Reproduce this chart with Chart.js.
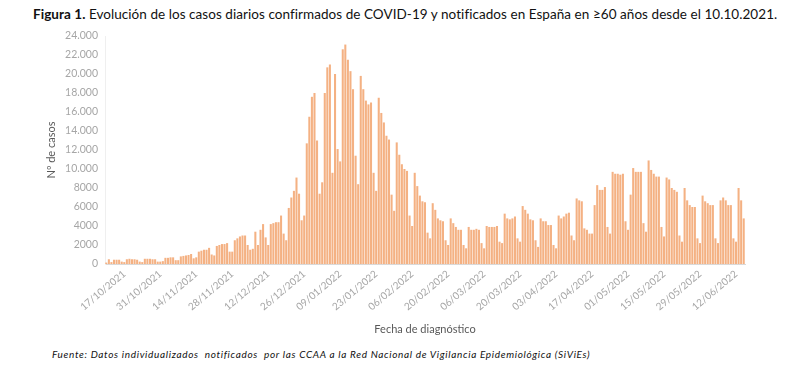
<!DOCTYPE html>
<html lang="es">
<head>
<meta charset="utf-8">
<script src="https://cdn.jsdelivr.net/npm/chart.js@4.4.1/dist/chart.umd.min.js"></script>
<style>
  html,body{margin:0;padding:0;background:#fff;}
  body{width:800px;height:378px;position:relative;overflow:hidden;font-family:Lato,'Liberation Sans',sans-serif;}
  #title{position:absolute;left:33px;top:6px;font-size:13.5px;color:#111;white-space:nowrap;}
  #title b{font-weight:700;}
  #wrap{position:absolute;left:0;top:22px;width:800px;height:322px;}
  #note{position:absolute;left:52px;top:348px;font-size:10px;font-style:italic;color:#111;white-space:nowrap;}
</style>
</head>
<body>
<div id="title"><b>Figura 1.</b> Evolución de los casos diarios confirmados de COVID-19 y notificados en España en ≥60 años desde el 10.10.2021.</div>
<div id="wrap"><canvas id="casos" width="800" height="322"></canvas></div>
<div id="note">Fuente: Datos individualizados&nbsp; notificados&nbsp; por las CCAA a la Red Nacional de Vigilancia Epidemiológica (SiViEs)</div>
<script>
/* ---- data (daily cases, >=60 years) ------------------------------------- */
// first day shown in each month: [year, month, day]
const monthStart = [[2021,10,10],[2021,11,1],[2021,12,1],[2022,1,1],[2022,2,1],[2022,3,1],[2022,4,1],[2022,5,1],[2022,6,1]];

const casesOct21 = [150,500,200,450,450,450,250, 200,500,550,500,500,450,250, 200,550,550,550,500,500,250, 250];
const casesNov21 = [300,650,650,700,700,400, 400,800,850,900,950,1050,600, 700,1300,1400,1500,1500,1700,1000,
                    900,1900,2000,2100,2100,2200,1300, 1300,2500,2700];
const casesDec21 = [2900,3000,3000,2000, 1500,1600,3400,2000,3600,4200,2800, 2000,4200,4300,4400,4400,5100,3200,
                    2500,5900,7000,7700,9100,7400,4600, 5100,12700,15500,17600,18000,13000];
const casesJan22 = [7400, 8600,18000,20700,21000,9600,20000,12100, 10800,22600,23100,21500,20300,18400,11400,
                    8400,19800,18400,17200,16800,17000,9600, 7700,17500,15900,14900,13500,13100,7300, 5600,12800];
const casesFeb22 = [11500,10500,10000,9800,5100, 4000,9600,8200,7200,6600,6500,3300, 2700,6400,5700,4800,4600,4500,2500,
                    2000,4800,4300,3900,3600,3600,2000, 1650,3900];
const casesMar22 = [3600,3600,3700,3600,2200, 1650,4000,3900,3900,3900,4000,2350, 2200,5300,4800,4700,4800,5000,2700,
                    2350,6100,5700,5300,4700,4600,2500, 1800,4800,4500,4500,4100];
const casesApr22 = [4100,2000, 1650,5100,4800,5000,5300,5400,3000, 2500,6900,6700,6600,3750,3600,3200,
                    3200,6200,8300,7800,7800,8100,3900, 3200,9700,9500,9500,9400,9500,4500];
const casesMay22 = [3600,7300,10100,9700,9700,9700,4300, 3400,10900,9900,9500,9200,9200,3900, 2900,9100,8900,8000,7800,7600,3000,
                    2350,8000,6700,6200,6000,6000,2700, 2200,7200,6600];
const casesJun22 = [6400,6200,6200,2700, 2200,6700,7000,6700,6200,6200,2700, 2350,8000,6700,4800];

const xTickLabels = ['17/10/2021','31/10/2021','14/11/2021','28/11/2021','12/12/2021','26/12/2021','09/01/2022','23/01/2022',
                     '06/02/2022','20/02/2022','06/03/2022','20/03/2022','03/04/2022','17/04/2022','01/05/2022','15/05/2022',
                     '29/05/2022','12/06/2022'];
const yTickLabels = ['0','2000','4000','6000','8000','10.000','12.000','14.000','16.000','18.000','20.000','22.000','24.000'];

/* ---- build the day axis --------------------------------------------------- */
const byMonth = [casesOct21,casesNov21,casesDec21,casesJan22,casesFeb22,casesMar22,casesApr22,casesMay22,casesJun22];
const pad2 = (n) => String(n).padStart(2,'0');
const days = [], cases = [];
byMonth.forEach((arr, k) => {
  const [y, m, d0] = monthStart[k];
  arr.forEach((v, j) => { days.push(pad2(d0 + j) + '/' + pad2(m) + '/' + y); cases.push(v); });
});

/* ---- chart ------------------------------------------------------------------ */
Chart.defaults.font.family = 'Lato, "Liberation Sans", sans-serif';
Chart.defaults.color = '#a6a6a6';

const el = document.getElementById('casos');
new Chart(el, {
  type:'bar',
  data:{ labels:days, datasets:[{ data:cases, backgroundColor:'#F4B183', barPercentage:.8, categoryPercentage:1 }]},
  options:{ responsive:false, animation:false,
    layout:{ padding:{ left:45, right:55, top:14, bottom:6 } },
    plugins:{ legend:{display:false}, tooltip:{enabled:false} },
    scales:{
      x:{ grid:{display:false, drawTicks:false}, border:{color:'#d9d9d9'},
          ticks:{ autoSkip:false, minRotation:40, maxRotation:40, padding:4, color:'#a6a6a6', font:{size:10},
                  callback:(v,i) => xTickLabels.includes(days[i]) ? days[i] : null },
          title:{ display:true, text:'Fecha de diagnóstico', color:'#595959', font:{size:11}, padding:{top:4,bottom:2} },
          afterFit:(s) => { s.height = 74; } },
      y:{ min:0, max:24000, grid:{display:false, drawTicks:false}, border:{color:'#efefef'},
          ticks:{ stepSize:2000, padding:7, color:'#a6a6a6', font:{size:10.5}, callback:(v,i) => yTickLabels[i] },
          title:{ display:true, text:'Nº de casos', color:'#595959', font:{size:11}, padding:0 },
          afterFit:(s) => { s.width = 60; } } } }
});

/* stretch the two text lines to the widths they have in the figure */
function fitWidth(id, w) {
  const t = document.getElementById(id), n = t.textContent.length;
  t.style.letterSpacing = ((w - t.getBoundingClientRect().width) / n).toFixed(3) + 'px';
}
fitWidth('title', 744);
fitWidth('note', 538);
</script>
</body>
</html>
